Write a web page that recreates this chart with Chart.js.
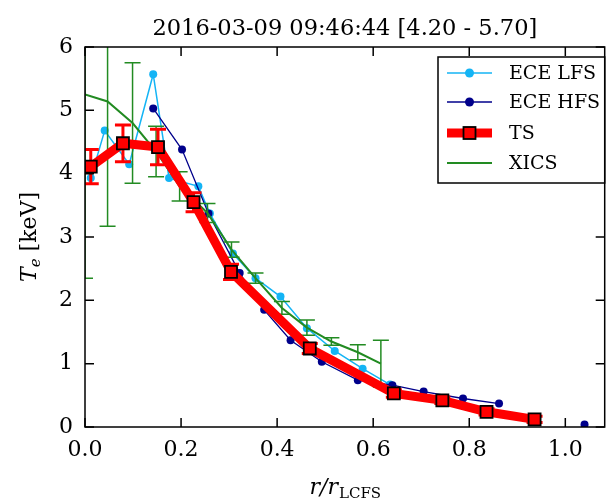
<!DOCTYPE html>
<html>
<head>
<meta charset="utf-8">
<script src="https://cdn.jsdelivr.net/npm/chart.js@4.4.1/dist/chart.umd.min.js"></script>
<style>
  body { margin: 0; background: #fff; }
</style>
</head>
<body>
<canvas id="teChart" width="615" height="500"></canvas>
<script>
// Te profile data (r/r_LCFS, keV)
const titleText = "2016-03-09 09:46:44 [4.20 - 5.70]";

const lfsR  = [0.012, 0.041, 0.092, 0.142, 0.175, 0.236, 0.26, 0.308, 0.355, 0.407, 0.462, 0.52, 0.578, 0.635];
const lfsTe = [3.93, 4.68, 4.15, 5.57, 3.93, 3.80, 3.37, 2.74, 2.35, 2.06, 1.56, 1.20, 0.92, 0.67];

const hfsR  = [0.142, 0.202, 0.257, 0.322, 0.373, 0.428, 0.493, 0.568, 0.64, 0.705, 0.787, 0.862, 0.95, 1.04];
const hfsTe = [5.03, 4.38, 3.37, 2.43, 1.85, 1.37, 1.03, 0.74, 0.66, 0.56, 0.45, 0.37, null, 0.04];

const tsR   = [0.012, 0.079, 0.152, 0.226, 0.304, 0.468, 0.643, 0.744, 0.836, 0.936];
const tsTe  = [4.11, 4.48, 4.42, 3.55, 2.45, 1.24, 0.53, 0.42, 0.24, 0.12];
const tsErr = [0.27, 0.29, 0.28, 0.15, 0.12, 0.08, 0.06, 0.05, 0.05, 0.05];

const xicsR   = [0.0, 0.047, 0.099, 0.148, 0.197, 0.255, 0.305, 0.355, 0.41, 0.462, 0.513, 0.568, 0.616];
const xicsTe  = [5.25, 5.14, 4.80, 4.35, 3.80, 3.38, 2.80, 2.35, 1.88, 1.57, 1.35, 1.18, 1.00];
const xicsErr = [2.90, 1.97, 0.95, 0.40, 0.23, 0.15, 0.12, 0.08, 0.10, 0.12, 0.06, 0.12, 0.37];

const xTicks = [0, 0.2, 0.4, 0.6, 0.8, 1.0];
const yTicks = [0, 1, 2, 3, 4, 5, 6];

const serif = "'DejaVu Serif', serif";
Chart.defaults.font.family = serif;
Chart.defaults.color = "#000";

function toPoints(xs, ys) {
    return xs.map((x, i) => ({ x: x, y: ys[i] }));
}

// error bars, drawn just before their dataset so the markers stay on top
const errorBars = {
    id: "errorBars",
    beforeDatasetDraw(chart, args) {
        const ds = chart.data.datasets[args.index];
        if (!ds.errors) return;
        const { ctx, chartArea, scales } = chart;
        ctx.save();
        ctx.beginPath();
        ctx.rect(chartArea.left, chartArea.top, chartArea.right - chartArea.left, chartArea.bottom - chartArea.top);
        ctx.clip();
        ctx.strokeStyle = ds.errorColor;
        ctx.lineWidth = ds.errorWidth;
        ds.data.forEach((p, i) => {
            if (p.y == null) return;
            const px = scales.x.getPixelForValue(p.x);
            const top = scales.y.getPixelForValue(p.y + ds.errors[i]);
            const bot = scales.y.getPixelForValue(p.y - ds.errors[i]);
            ctx.beginPath();
            ctx.moveTo(px, top); ctx.lineTo(px, bot);
            ctx.moveTo(px - 8, top); ctx.lineTo(px + 8, top);
            ctx.moveTo(px - 8, bot); ctx.lineTo(px + 8, bot);
            ctx.stroke();
        });
        ctx.restore();
    }
};

// frame with inward ticks on all sides, axis titles and legend
const frameAndLegend = {
    id: "frameAndLegend",
    afterDatasetsDraw(chart) {
        const { ctx, chartArea: a, scales } = chart;
        ctx.save();
        ctx.strokeStyle = "#000";
        ctx.lineWidth = 1.5;
        ctx.strokeRect(a.left, a.top, a.right - a.left, a.bottom - a.top);
        ctx.beginPath();
        xTicks.forEach(v => {
            const px = scales.x.getPixelForValue(v);
            ctx.moveTo(px, a.bottom); ctx.lineTo(px, a.bottom - 9);
            ctx.moveTo(px, a.top); ctx.lineTo(px, a.top + 9);
        });
        yTicks.forEach(v => {
            const py = scales.y.getPixelForValue(v);
            ctx.moveTo(a.left, py); ctx.lineTo(a.left + 9, py);
            ctx.moveTo(a.right, py); ctx.lineTo(a.right - 9, py);
        });
        ctx.stroke();

        // x title: r/r_LCFS
        ctx.fillStyle = "#000";
        ctx.textBaseline = "alphabetic";
        const big = "italic 22px " + serif, small = "15px " + serif;
        ctx.font = big;
        const w1 = ctx.measureText("r/r").width;
        ctx.font = small;
        const w2 = ctx.measureText("LCFS").width;
        let x0 = (a.left + a.right) / 2 - (w1 + w2) / 2;
        const yb = 494;
        ctx.font = big;
        ctx.fillText("r/r", x0, yb);
        ctx.font = small;
        ctx.fillText("LCFS", x0 + w1 + 1, yb + 4);

        // y title: T_e [keV]
        ctx.save();
        ctx.translate(36, (a.top + a.bottom) / 2);
        ctx.rotate(-Math.PI / 2);
        ctx.font = big;
        const t1 = ctx.measureText("T").width;
        ctx.font = "italic 15px " + serif;
        const t2 = ctx.measureText("e").width;
        ctx.font = "22px " + serif;
        const t3 = ctx.measureText(" [keV]").width;
        let s = -(t1 + t2 + t3) / 2;
        ctx.font = big;
        ctx.fillText("T", s, 0);
        ctx.font = "italic 15px " + serif;
        ctx.fillText("e", s + t1, 4);
        ctx.font = "22px " + serif;
        ctx.fillText(" [keV]", s + t1 + t2, 0);
        ctx.restore();

        // legend
        const lx = 438, ly = 57, lw = a.right - lx, lh = 126;
        ctx.fillStyle = "#fff";
        ctx.fillRect(lx, ly, lw, lh);
        ctx.strokeRect(lx, ly, lw, lh);
        const rows = [
            { label: "ECE LFS", color: "#14b4f5", width: 1.5, marker: "circle", y: 73 },
            { label: "ECE HFS", color: "#00008b", width: 1.5, marker: "circle", y: 102 },
            { label: "TS", color: "#ff0000", width: 9, marker: "square", y: 133 },
            { label: "XICS", color: "#228b22", width: 2, marker: null, y: 163 }
        ];
        rows.forEach(r => {
            ctx.strokeStyle = r.color;
            ctx.lineWidth = r.width;
            ctx.beginPath();
            ctx.moveTo(447, r.y); ctx.lineTo(492, r.y);
            ctx.stroke();
            if (r.marker === "circle") {
                ctx.fillStyle = r.color;
                ctx.beginPath();
                ctx.arc(469.5, r.y, 4.5, 0, Math.PI * 2);
                ctx.fill();
            } else if (r.marker === "square") {
                ctx.fillStyle = "#ff0000";
                ctx.fillRect(463.5, r.y - 6, 12, 12);
                ctx.strokeStyle = "#000";
                ctx.lineWidth = 1.8;
                ctx.strokeRect(463.5, r.y - 6, 12, 12);
            }
            ctx.fillStyle = "#000";
            ctx.font = "19px " + serif;
            ctx.textBaseline = "middle";
            ctx.fillText(r.label, 509, r.y + 1);
        });
        ctx.restore();
    }
};

const ctx = document.getElementById("teChart").getContext("2d");
new Chart(ctx, {
    type: "scatter",
    data: {
        datasets: [
            {
                label: "TS",
                data: toPoints(tsR, tsTe),
                errors: tsErr,
                errorColor: "#ff0000",
                errorWidth: 3,
                showLine: true,
                borderColor: "#ff0000",
                backgroundColor: "#ff0000",
                borderWidth: 9,
                pointStyle: "rect",
                pointRadius: 8.5,
                pointBorderColor: "#000",
                pointBorderWidth: 1.8,
                pointBackgroundColor: "#ff0000",
                order: 0
            },
            {
                label: "XICS",
                data: toPoints(xicsR, xicsTe),
                errors: xicsErr,
                errorColor: "#228b22",
                errorWidth: 1.5,
                showLine: true,
                borderColor: "#228b22",
                borderWidth: 2,
                pointRadius: 0,
                order: 1
            },
            {
                label: "ECE HFS",
                data: toPoints(hfsR, hfsTe),
                showLine: true,
                spanGaps: false,
                borderColor: "#00008b",
                backgroundColor: "#00008b",
                borderWidth: 1.3,
                pointRadius: 4,
                pointBorderWidth: 0,
                order: 2
            },
            {
                label: "ECE LFS",
                data: toPoints(lfsR, lfsTe),
                showLine: true,
                borderColor: "#14b4f5",
                backgroundColor: "#14b4f5",
                borderWidth: 1.5,
                pointRadius: 4,
                pointBorderWidth: 0,
                order: 3
            }
        ]
    },
    options: {
        responsive: false,
        animation: false,
        events: [],
        layout: { padding: { left: 0, right: 3, top: 0, bottom: 0 } },
        plugins: {
            legend: { display: false },
            tooltip: { enabled: false },
            title: {
                display: true,
                fullSize: false,
                text: titleText,
                color: "#000",
                font: { family: serif, size: 22.5, weight: "normal" },
                padding: { top: 16, bottom: 4 }
            }
        },
        scales: {
            x: {
                type: "linear",
                min: 0,
                max: 1.082,
                grid: { display: false, drawTicks: false },
                border: { display: false },
                ticks: {
                    stepSize: 0.2,
                    includeBounds: false,
                    padding: 10,
                    font: { size: 22 },
                    callback: v => v.toFixed(1)
                },
                afterFit: s => { s.height = 73; }
            },
            y: {
                type: "linear",
                min: 0,
                max: 6,
                grid: { display: false, drawTicks: false },
                border: { display: false },
                ticks: {
                    stepSize: 1,
                    padding: 12,
                    font: { size: 22 }
                },
                afterFit: s => { s.width = 85; }
            }
        }
    },
    plugins: [errorBars, frameAndLegend]
});
</script>
</body>
</html>
